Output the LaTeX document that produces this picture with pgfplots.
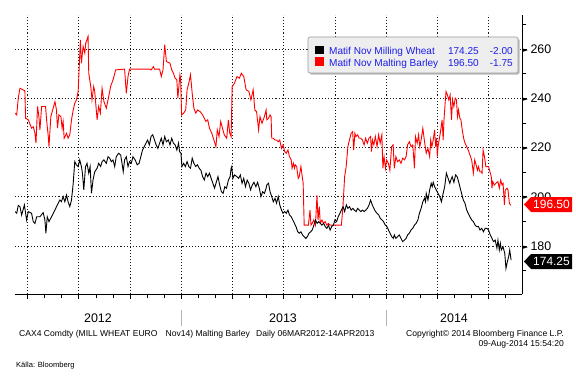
\documentclass[border=0pt]{standalone}
\usepackage{pgfplots}
\pgfplotsset{compat=1.18}
\usepackage{pgfplotstable}
\usepackage{fontspec}
\setmainfont{Liberation Sans}
\newfontfamily\dejavu{DejaVu Sans}
\definecolor{bbblue}{RGB}{30,30,235}
\definecolor{leggray}{RGB}{238,238,238}

\pgfplotstableread{
m v
2.26 234.0
2.36 233.3
2.45 240.0
2.55 244.1
2.84 243.1
2.88 231.9
3.04 231.3
3.23 227.9
3.33 228.5
3.43 225.8
3.49 221.8
3.58 236.7
3.66 232.6
3.72 227.2
3.82 236.7
4.05 236.7
4.11 231.3
4.21 224.5
4.25 220.4
4.36 232.6
4.60 238.7
4.69 235.3
4.75 227.9
4.83 233.3
4.95 232.6
5.02 227.9
5.08 230.6
5.14 223.8
5.28 225.8
5.37 223.8
5.47 225.2
5.57 231.3
5.67 235.3
5.76 238.0
5.86 239.4
5.96 242.8
6.09 263.8
6.15 254.3
6.25 261.1
6.35 258.4
6.40 262.4
6.54 265.2
6.58 250.2
6.70 244.8
6.77 239.4
6.87 244.8
6.93 242.8
7.07 231.3
7.16 236.7
7.26 234.0
7.36 244.1
7.47 238.7
7.61 236.0
7.75 240.8
7.86 244.8
8.00 247.5
8.16 251.6
8.68 251.9
8.78 242.1
8.88 248.9
8.97 251.9
10.13 251.9
10.23 251.6
10.37 252.9
10.43 251.9
10.73 251.9
10.83 248.9
10.93 251.6
11.03 261.8
11.13 255.0
11.34 254.3
11.44 251.6
11.54 250.2
11.64 248.2
11.74 247.5
11.80 240.1
11.86 244.8
11.92 249.6
11.96 248.2
12.02 233.3
12.14 234.0
12.26 235.3
12.34 243.5
12.44 246.2
12.54 249.6
12.64 242.1
12.74 236.0
12.85 234.0
12.95 235.3
13.11 234.6
13.25 233.3
13.35 231.9
13.45 230.6
13.55 231.3
13.65 227.9
13.79 225.8
13.91 223.1
14.03 220.4
14.11 227.2
14.21 224.5
14.31 230.6
14.39 228.5
14.52 225.2
14.66 223.8
14.76 231.3
14.84 225.8
14.92 224.5
14.98 244.8
15.12 246.2
15.26 248.9
15.40 248.2
15.52 250.2
15.66 248.9
15.80 243.5
15.96 242.8
16.08 239.4
16.21 243.5
16.31 235.3
16.41 234.6
16.53 227.2
16.61 232.6
16.73 229.9
16.87 232.6
16.97 235.3
17.01 231.3
17.11 231.9
17.20 233.3
17.26 232.6
17.30 223.8
17.39 223.8
17.49 223.1
17.58 223.1
17.68 222.4
17.77 223.1
17.87 219.7
17.96 221.1
18.06 218.4
18.15 217.7
18.25 219.0
18.34 216.3
18.44 215.0
18.49 211.6
18.57 213.6
18.63 211.6
18.68 213.0
18.76 212.3
18.85 207.5
18.91 208.2
19.01 212.3
19.06 209.6
19.14 205.5
19.20 188.5
19.29 188.5
19.45 188.5
19.54 194.6
19.60 188.5
19.67 189.2
19.76 190.6
19.86 188.5
19.95 200.7
20.01 190.6
20.09 196.0
20.14 189.2
20.24 190.6
20.33 189.2
20.43 189.9
20.52 188.5
20.62 189.2
20.71 188.5
21.38 188.5
21.47 196.0
21.57 208.2
21.66 212.3
21.76 220.4
21.85 223.1
21.95 225.8
22.04 226.5
22.10 219.0
22.17 225.8
22.23 224.5
22.33 225.2
22.42 223.8
22.52 223.8
22.61 223.1
22.71 221.1
22.80 223.8
22.90 221.8
22.99 223.8
23.09 224.5
23.14 218.4
23.20 223.1
23.28 221.1
23.37 224.5
23.47 220.4
23.56 225.2
23.65 221.8
23.75 225.2
23.81 211.6
23.88 216.3
23.96 211.6
24.03 215.0
24.13 213.6
24.22 210.8
24.32 220.4
24.41 221.1
24.48 211.6
24.57 216.3
24.67 214.3
24.77 215.0
24.87 213.6
24.97 215.7
25.07 215.0
25.17 216.3
25.26 221.1
25.36 222.4
25.46 220.4
25.56 221.1
25.66 211.6
25.72 224.5
25.82 221.8
25.90 225.2
25.97 220.4
26.05 223.1
26.15 227.9
26.25 222.4
26.35 217.7
26.45 219.7
26.55 216.3
26.61 223.1
26.68 220.4
26.76 223.1
26.84 227.2
26.90 220.4
26.96 223.8
27.00 216.3
27.04 220.4
27.14 224.5
27.20 227.2
27.28 231.3
27.34 223.1
27.39 231.3
27.47 239.4
27.51 242.8
27.59 241.4
27.67 239.4
27.75 241.4
27.83 231.3
27.89 239.4
27.97 236.7
28.05 240.1
28.12 239.4
28.18 232.6
28.24 235.3
28.32 231.9
28.38 231.3
28.46 227.2
28.54 223.8
28.62 221.8
28.72 220.4
28.81 219.0
28.91 217.0
29.01 215.0
29.11 209.6
29.19 215.0
29.27 213.0
29.35 210.8
29.41 212.3
29.49 210.2
29.56 210.2
29.62 209.6
29.68 219.0
29.76 216.3
29.84 212.3
29.92 212.3
30.00 212.3
30.08 210.2
30.16 208.2
30.20 203.5
30.25 206.2
30.33 204.8
30.43 205.5
30.55 206.2
30.63 203.5
30.71 206.8
30.79 204.8
30.85 205.5
30.93 196.7
30.98 202.8
31.08 203.5
31.14 202.8
31.22 197.4
31.30 196.5
}\barley

\pgfplotstableread{
m v
2.26 194.0
2.36 193.3
2.45 196.5
2.55 196.0
2.65 192.6
2.81 196.7
2.94 190.6
3.04 194.0
3.23 193.3
3.33 189.9
3.43 189.2
3.53 191.9
3.72 191.9
3.91 193.6
4.01 190.6
4.07 185.2
4.15 191.9
4.25 189.9
4.40 191.9
4.60 194.6
4.69 196.0
4.79 197.4
4.89 198.7
4.98 198.0
5.08 200.1
5.18 198.0
5.28 200.7
5.37 198.0
5.47 196.0
5.57 198.7
5.67 205.5
5.76 214.3
5.86 212.9
5.96 212.3
6.05 215.0
6.15 212.3
6.21 209.6
6.29 202.8
6.39 212.3
6.48 213.6
6.58 209.6
6.66 212.3
6.74 201.4
6.83 206.8
6.93 210.2
7.07 211.6
7.16 213.6
7.28 212.3
7.36 214.3
7.47 215.0
7.61 213.6
7.71 216.3
7.81 215.7
7.90 214.3
8.00 215.0
8.10 212.3
8.19 216.3
8.33 217.7
8.45 217.0
8.53 213.6
8.60 210.2
8.68 215.0
8.78 216.3
8.88 212.3
8.97 214.3
9.07 213.6
9.17 216.3
9.30 215.0
9.42 213.0
9.53 213.6
9.63 216.3
9.73 219.0
9.83 220.4
9.93 221.8
10.03 223.1
10.13 221.1
10.23 224.5
10.33 225.2
10.43 223.1
10.53 221.1
10.63 219.7
10.73 221.8
10.83 223.8
10.93 221.1
11.03 224.5
11.13 222.4
11.24 223.1
11.34 221.1
11.44 223.8
11.54 221.8
11.64 221.1
11.74 219.0
11.84 221.8
11.90 218.4
11.98 217.7
12.04 212.3
12.14 213.6
12.24 212.3
12.34 214.3
12.44 212.3
12.54 211.6
12.64 215.7
12.74 213.6
12.85 212.3
12.95 213.0
13.05 211.6
13.15 210.8
13.25 208.2
13.35 206.8
13.45 209.6
13.55 208.2
13.65 209.6
13.75 207.5
13.85 205.5
13.95 203.5
14.05 205.9
14.15 208.2
14.25 204.8
14.35 202.1
14.45 201.4
14.55 204.1
14.65 203.5
14.76 206.8
14.86 208.2
14.92 211.6
14.96 212.3
15.02 207.5
15.12 208.9
15.26 208.2
15.36 207.5
15.46 208.9
15.56 205.5
15.66 207.5
15.76 204.1
15.86 206.8
15.96 205.5
16.06 202.8
16.16 204.8
16.26 205.9
16.37 204.1
16.47 205.9
16.57 203.5
16.67 200.1
16.77 202.1
16.87 201.4
16.97 203.5
17.01 204.8
17.11 205.5
17.20 202.1
17.30 200.1
17.39 198.0
17.49 199.4
17.58 197.4
17.68 200.1
17.77 196.7
17.87 194.6
17.96 193.3
18.06 194.0
18.15 193.3
18.25 194.6
18.34 192.6
18.44 191.9
18.53 190.6
18.63 189.2
18.72 187.9
18.82 185.8
18.91 185.2
19.01 185.8
19.10 184.5
19.20 183.8
19.29 183.1
19.39 183.8
19.48 185.2
19.58 185.8
19.67 186.5
19.77 188.5
19.86 190.6
19.96 189.2
20.05 189.9
20.15 189.2
20.24 188.5
20.34 189.2
20.43 187.9
20.53 187.2
20.62 188.5
20.72 186.5
20.81 187.9
20.91 188.5
21.00 190.6
21.10 189.9
21.19 191.9
21.29 193.3
21.38 194.6
21.48 196.0
21.57 194.0
21.67 196.7
21.76 195.3
21.86 196.0
21.95 194.6
22.05 195.3
22.14 194.6
22.24 194.0
22.33 195.3
22.43 194.6
22.52 194.0
22.62 194.6
22.71 194.0
22.81 194.6
22.90 195.3
23.00 196.7
23.09 198.7
23.19 196.7
23.28 195.3
23.38 194.0
23.47 193.3
23.57 192.6
23.66 191.2
23.76 190.6
23.85 189.9
23.95 188.5
24.04 187.9
24.14 186.5
24.23 185.2
24.33 183.8
24.42 183.1
24.48 184.5
24.57 183.1
24.67 183.8
24.77 184.5
24.87 183.1
24.97 181.8
25.07 182.4
25.17 183.1
25.26 184.5
25.36 185.2
25.46 186.5
25.56 187.2
25.66 188.5
25.76 189.2
25.86 190.6
25.95 193.3
26.05 195.3
26.15 198.0
26.25 199.4
26.31 198.0
26.35 201.4
26.45 198.7
26.55 202.8
26.64 205.5
26.70 204.1
26.76 205.9
26.84 204.1
26.94 202.8
27.04 201.4
27.14 200.1
27.24 198.0
27.34 201.4
27.43 204.1
27.53 209.6
27.63 207.5
27.73 205.5
27.79 206.8
27.87 208.2
27.97 205.9
28.07 208.9
28.16 208.2
28.22 206.8
28.32 204.1
28.42 201.4
28.52 198.7
28.62 197.4
28.72 194.6
28.81 193.3
28.91 191.9
29.01 190.6
29.11 189.9
29.21 188.5
29.31 187.9
29.41 187.9
29.50 186.5
29.60 187.2
29.70 185.8
29.80 187.2
29.90 187.2
30.00 186.5
30.10 184.5
30.20 183.1
30.29 181.8
30.39 182.4
30.49 179.1
30.55 182.4
30.63 178.4
30.69 181.1
30.75 178.4
30.85 179.7
30.95 177.0
31.02 170.9
31.10 173.6
31.18 175.7
31.24 178.4
31.32 174.25
}\wheat

\begin{document}
\begin{tikzpicture}[x=1bp,y=1bp]
\useasboundingbox (0,0) rectangle (576,377);
\begin{axis}[
  at={(15bp,83bp)}, anchor=south west,
  scale only axis, width=507bp, height=279bp,
  xmin=2.26, xmax=31.96, ymin=160.5, ymax=273.9,
  axis x line*=bottom, axis y line*=right,
  xtick={3,6,...,30}, minor xtick={3,4,...,31}, xticklabels={},
  ytick={180,200,...,260}, minor ytick={170,190,...,270},
  tick align=outside, major tick length=5bp, minor tick length=4bp,
  grid=major,
  major grid style={black!90, line width=0.8bp, dash pattern=on 1.1bp off 2bp},
  tick style={black, line width=0.75bp},
  axis line style={black, line width=0.8bp},
  yticklabel style={font=\fontsize{12.5}{14}\selectfont},
  yticklabel={\llap{\raisebox{1.2bp}{\dejavu\fontsize{7}{8}\selectfont\char"25BA}\hspace{2.6bp}}\pgfmathprintnumber{\tick}},
  /pgf/number format/assume math mode=true,
]
\addplot[red, line width=0.9bp] table[x=m,y=v] {\barley};
\addplot[black, line width=0.9bp] table[x=m,y=v] {\wheat};
\end{axis}

% legend
\fill[gray!55, rounded corners=2bp] (309.5,302.5) rectangle (519.5,338.5);
\filldraw[fill=leggray, draw=gray!80, line width=0.6bp, rounded corners=2bp] (308,304) rectangle (518,340);
\fill[black] (315,323) rectangle (323.5,331.5);
\fill[red] (315,311.5) rectangle (323.5,320);
\begin{scope}[every node/.style={inner sep=0, text=bbblue, font=\fontsize{10.1}{11}\selectfont}]
\node[anchor=base west] at (329,322.5) {Matif Nov Milling Wheat};
\node[anchor=base west] at (329,311) {Matif Nov Malting Barley};
\node[anchor=base east] at (479,322.5) {174.25};
\node[anchor=base east] at (479,311) {196.50};
\node[anchor=base east] at (513,322.5) {-2.00};
\node[anchor=base east] at (513,311) {-1.75};
\end{scope}

% last-value tags
\fill[red] (524,172.5) -- (531,180) -- (572,180) -- (572,165) -- (531,165) -- cycle;
\node[anchor=base, inner sep=0, text=white, font=\fontsize{12}{14}\selectfont] at (551.5,168.2) {196.50};
\fill[black] (524,115.5) -- (531,123) -- (572,123) -- (572,108) -- (531,108) -- cycle;
\node[anchor=base, inner sep=0, text=white, font=\fontsize{12}{14}\selectfont] at (551.5,111.2) {174.25};

% year labels
\draw[gray!60, line width=1bp] (181,67) -- (181,51);
\draw[gray!60, line width=1bp] (386,67) -- (386,51);
\begin{scope}[every node/.style={inner sep=0, font=\fontsize{12.5}{14}\selectfont}]
\node at (98,59) {2012};
\node at (283,59) {2013};
\node at (454,59) {2014};
\end{scope}

% footer
\begin{scope}[every node/.style={inner sep=0, font=\fontsize{8.6}{10}\selectfont}]
\node[anchor=west] at (19,43) {CAX4 Comdty (MILL WHEAT EURO\hspace{8bp}Nov14) Malting Barley\hspace{4bp} Daily 06MAR2012-14APR2013};
\node[anchor=east] at (564,43) {Copyright© 2014 Bloomberg Finance L.P.};
\node[anchor=east] at (564,33) {09-Aug-2014 15:54:20};
\end{scope}
\node[anchor=west, inner sep=0, font=\fontsize{7.6}{9}\selectfont] at (16,11) {Källa: Bloomberg};
\end{tikzpicture}
\end{document}
